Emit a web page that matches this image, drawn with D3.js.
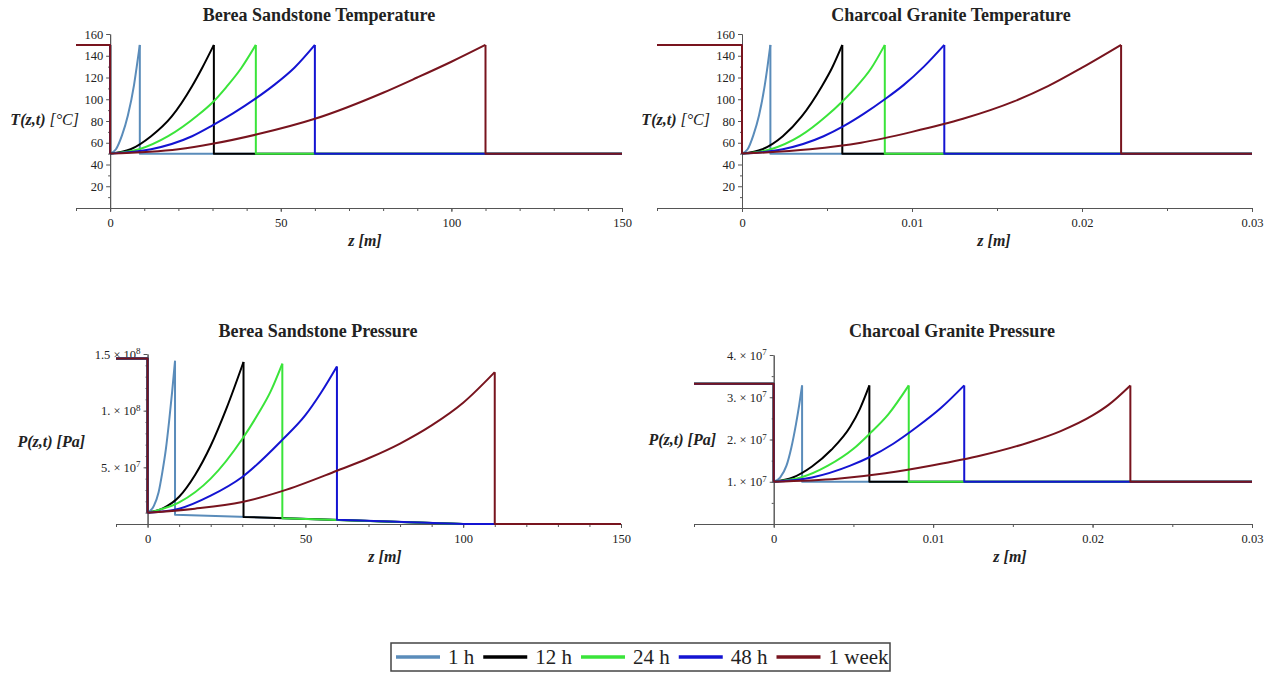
<!DOCTYPE html>
<meta charset="utf-8">
<style>
  body { margin: 0; background: #fff; }
  svg text { font-family: "Liberation Serif", "Times New Roman", serif; fill: #222; }
  .axis text { font-size: 12.5px; }
  .axis path, .axis line { stroke: #555; }
  .title { font-size: 18px; font-weight: bold; text-anchor: middle; }
  .alabel { font-size: 16px; font-style: italic; }
  .curve { fill: none; stroke-width: 2; stroke-linejoin: round; }
  .legend text { font-size: 21px; }
</style>
<body>
<svg id="chart" width="1276" height="675"></svg>
<script src="https://cdn.jsdelivr.net/npm/d3@7/dist/d3.min.js"></script>
<script>
  const seriesNames = ["1 h", "12 h", "24 h", "48 h", "1 week"]
  const seriesColors = ["#5a8cba", "#000000", "#3ae43a", "#1414d2", "#78141e"]

  // Berea Sandstone temperature, [z m, T °C] up to the thermal front
  const bereaTempInlet = 150
  const bereaTempAmbient = 50
  const bereaTempRise = [
    [[0, 50], [1.7, 54], [3.5, 67], [5.2, 85], [7, 113], [7.8, 130], [8.7, 150]],
    [[0, 50], [6, 54], [12, 66], [18, 84], [24, 112], [27, 129], [30.4, 150]],
    [[0, 50], [8.5, 54], [17, 66], [25.6, 85], [30, 97], [34, 111], [38.4, 128.5], [42.7, 150]],
    [[0, 50], [12, 54], [24, 66], [30, 76], [36, 87], [42.8, 101], [48, 113], [54, 129], [60, 150]],
    [[0, 50], [20, 54], [30, 59], [42.8, 67.5], [60, 82], [80, 106], [90, 120], [100, 134.5], [110, 150]]
  ]

  // Charcoal Granite temperature, [z m, T °C]
  const granTempInlet = 150
  const granTempAmbient = 50
  const granTempRise = [
    [[0, 50], [0.00033, 54], [0.00067, 67], [0.001, 85], [0.00134, 113], [0.0015, 130], [0.00167, 150]],
    [[0, 50], [0.0012, 54], [0.0024, 66], [0.0035, 84], [0.0047, 112], [0.0053, 129], [0.0059, 150]],
    [[0, 50], [0.0017, 54], [0.0034, 66], [0.005, 85], [0.0059, 98], [0.0067, 111], [0.0076, 128.5], [0.0084, 150]],
    [[0, 50], [0.0024, 54], [0.0048, 66], [0.006, 75.5], [0.0072, 87], [0.0084, 100], [0.0095, 113], [0.0107, 130], [0.0119, 150]],
    [[0, 50], [0.004, 54], [0.007, 60], [0.01, 70], [0.013, 82], [0.016, 98], [0.018, 112], [0.02, 129], [0.0223, 150]]
  ]

  // Berea Sandstone pressure, [z m, P Pa]
  const bereaPresInlet = 1.46e8
  const bereaPresRise = [
    [[0, 1e7], [2, 1.6e7], [3.5, 2.8e7], [4.7, 4.6e7], [5.8, 6.6e7], [6.8, 9.0e7], [7.8, 1.17e8], [8.7, 1.44e8]],
    [[0, 1e7], [5, 1.4e7], [10, 2.4e7], [15, 4.3e7], [20, 6.9e7], [25, 1.02e8], [30.4, 1.43e8]],
    [[0, 1e7], [10, 1.9e7], [20, 4.0e7], [30, 7.5e7], [35, 9.7e7], [39, 1.17e8], [42.7, 1.415e8]],
    [[0, 1e7], [10, 1.35e7], [20, 2.5e7], [30, 4.15e7], [42.6, 7.4e7], [50, 9.6e7], [55, 1.16e8], [60, 1.39e8]],
    [[0, 1e7], [15, 1.35e7], [30, 1.94e7], [42.6, 2.9e7], [60, 4.7e7], [70, 5.8e7], [80, 7.1e7], [90, 8.7e7], [100, 1.07e8], [110, 1.34e8]]
  ]
  const bereaPresTail = [
    [[8.7, 0.82e7], [100, 0], [150, 0]],
    [[30.4, 0.62e7], [100, 0], [150, 0]],
    [[42.7, 0.5e7], [100, 0], [150, 0]],
    [[60, 0.38e7], [100, 0], [150, 0]],
    [[110, 0], [150, 0]]
  ]

  // Charcoal Granite pressure, [z m, P Pa]
  const granPresInlet = 3.32e7
  const granPresAmbient = 1e7
  const granPresRise = [
    [[0, 1e7], [0.0004, 1.1e7], [0.0008, 1.38e7], [0.0011, 1.8e7], [0.0014, 2.37e7], [0.0016, 2.82e7], [0.00178, 3.28e7]],
    [[0, 1e7], [0.0012, 1.1e7], [0.0024, 1.36e7], [0.0036, 1.75e7], [0.0048, 2.3e7], [0.0054, 2.72e7], [0.006, 3.28e7]],
    [[0, 1e7], [0.0017, 1.1e7], [0.0034, 1.38e7], [0.005, 1.78e7], [0.006, 2.13e7], [0.0072, 2.6e7], [0.00847, 3.28e7]],
    [[0, 1e7], [0.0024, 1.1e7], [0.0048, 1.38e7], [0.006, 1.58e7], [0.0075, 1.9e7], [0.009, 2.3e7], [0.0105, 2.75e7], [0.01195, 3.28e7]],
    [[0, 1e7], [0.004, 1.07e7], [0.007, 1.2e7], [0.01, 1.39e7], [0.013, 1.62e7], [0.016, 1.93e7], [0.018, 2.2e7], [0.02, 2.57e7], [0.021, 2.82e7], [0.02237, 3.28e7]]
  ]

  const svg = d3.select('#chart')

  const flatTail = (rise, level, xmax) =>
    rise.map(r => [[r[r.length - 1][0], level], [xmax, level]])

  const panels = [
    { title: 'Berea Sandstone Temperature', tx: 319, ty: 21,
      xd: [-10, 150], xr: [76, 622], yd: [0, 160], yr: [208, 34],
      xt: [0, 50, 100, 150], xm: d3.range(-10, 151, 10),
      yt: d3.range(20, 161, 20), ym: d3.range(10, 160, 20),
      xf: d3.format('d'), yf: d3.format('d'),
      inlet: bereaTempInlet, rise: bereaTempRise,
      tail: flatTail(bereaTempRise, bereaTempAmbient, 150),
      ylab: ['T(z,t)', ' [°C]'], ylx: 79, yly: 125, xlx: 365, xly: 246 },
    { title: 'Charcoal Granite Temperature', tx: 951, ty: 21,
      xd: [-0.005, 0.03], xr: [657, 1252], yd: [0, 160], yr: [208, 34],
      xt: [0, 0.01, 0.02, 0.03], xm: d3.range(-0.005, 0.0301, 0.005),
      yt: d3.range(20, 161, 20), ym: d3.range(10, 160, 20),
      xf: d => d === 0 ? '0' : d3.format('.2f')(d), yf: d3.format('d'),
      inlet: granTempInlet, rise: granTempRise,
      tail: flatTail(granTempRise, granTempAmbient, 0.03),
      ylab: ['T(z,t)', ' [°C]'], ylx: 710, yly: 125, xlx: 994, xly: 246 },
    { title: 'Berea Sandstone Pressure', tx: 318, ty: 337,
      xd: [-10, 150], xr: [116, 621], yd: [0, 1.5e8], yr: [524, 354],
      xt: [0, 50, 100, 150], xm: d3.range(-10, 151, 10),
      yt: [5e7, 1e8, 1.5e8], ym: d3.range(1e7, 1.5e8, 1e7),
      xf: d3.format('d'), yf: 'sci',
      inlet: bereaPresInlet, rise: bereaPresRise, tail: bereaPresTail,
      ylab: ['P(z,t) [Pa]', ''], ylx: 85, yly: 447, xlx: 385, xly: 562 },
    { title: 'Charcoal Granite Pressure', tx: 952, ty: 337,
      xd: [-0.005, 0.03], xr: [694, 1252], yd: [0, 4e7], yr: [524, 355],
      xt: [0, 0.01, 0.02, 0.03], xm: d3.range(-0.005, 0.0301, 0.005),
      yt: [1e7, 2e7, 3e7, 4e7], ym: d3.range(5e6, 4e7, 5e6),
      xf: d => d === 0 ? '0' : d3.format('.2f')(d), yf: 'sci',
      inlet: granPresInlet, rise: granPresRise,
      tail: flatTail(granPresRise, granPresAmbient, 0.03),
      ylab: ['P(z,t) [Pa]', ''], ylx: 716, yly: 445, xlx: 1010, xly: 562 }
  ]

  function sciLabel(sel) {
    sel.each(function (d) {
      const e = Math.floor(Math.log10(d) + 1e-9)
      const m = +(d / Math.pow(10, e)).toFixed(2)
      const t = d3.select(this).text(null)
      t.append('tspan').text((Number.isInteger(m) ? m + '.' : m) + ' \u00d7 10')
      t.append('tspan').attr('dy', '-0.5em').attr('font-size', '9px').text(e)
    })
  }

  panels.forEach(p => {
    const x = d3.scaleLinear().domain(p.xd).range(p.xr)
    const y = d3.scaleLinear().domain(p.yd).range(p.yr)
    const g = svg.append('g')

    // minor ticks
    g.append('g').attr('class', 'axis').attr('transform', `translate(0,${y(0)})`)
      .call(d3.axisBottom(x).tickValues(p.xm).tickSize(3).tickSizeOuter(0).tickFormat(''))
    g.append('g').attr('class', 'axis').attr('transform', `translate(${x(0)},0)`)
      .call(d3.axisLeft(y).tickValues(p.ym).tickSize(2).tickSizeOuter(0).tickFormat(''))

    // major ticks
    g.append('g').attr('class', 'axis').attr('transform', `translate(0,${y(0)})`)
      .call(d3.axisBottom(x).tickValues(p.xt).tickSize(4).tickSizeOuter(0).tickPadding(6).tickFormat(p.xf))
    const ya = g.append('g').attr('class', 'axis').attr('transform', `translate(${x(0)},0)`)
      .call(d3.axisLeft(y).tickValues(p.yt).tickSize(4).tickSizeOuter(0).tickPadding(3)
        .tickFormat(p.yf === 'sci' ? d => d : p.yf))
    if (p.yf === 'sci') ya.selectAll('.tick text').call(sciLabel)
    g.selectAll('.domain').attr('stroke', '#555')

    const line = d3.line().x(d => x(d[0])).y(d => y(d[1]))
    const smooth = d3.line().x(d => x(d[0])).y(d => y(d[1])).curve(d3.curveMonotoneX)

    p.rise.forEach((r, i) => {
      const s = g.append('g').attr('stroke', seriesColors[i])
      const start = r[0]
      const front = r[r.length - 1]
      s.append('path').attr('class', 'curve')
        .attr('d', line([[p.xd[0], p.inlet], [0, p.inlet], start]))
      s.append('path').attr('class', 'curve').attr('d', smooth(r))
      s.append('path').attr('class', 'curve')
        .attr('d', line([front].concat(p.tail[i])))
    })

    g.append('text').attr('class', 'title').attr('x', p.tx).attr('y', p.ty).text(p.title)

    g.append('text').attr('class', 'alabel').attr('font-weight', 'bold')
      .attr('x', p.xlx).attr('y', p.xly).attr('text-anchor', 'middle').text('z [m]')

    const yl = g.append('text').attr('class', 'alabel')
      .attr('x', p.ylx).attr('y', p.yly).attr('text-anchor', 'end')
    yl.append('tspan').attr('font-weight', 'bold').text(p.ylab[0])
    if (p.ylab[1]) yl.append('tspan').text(p.ylab[1])
  })

  // legend
  const lg = svg.append('g').attr('class', 'legend')
  lg.append('rect').attr('x', 391).attr('y', 643).attr('width', 499).attr('height', 28)
    .attr('fill', 'none').attr('stroke', '#444').attr('stroke-width', 1.5)
  let lx = 396
  seriesNames.forEach((n, i) => {
    lg.append('line').attr('x1', lx).attr('x2', lx + 44).attr('y1', 657).attr('y2', 657)
      .attr('stroke', seriesColors[i]).attr('stroke-width', 3.5)
    const t = lg.append('text').attr('x', lx + 52).attr('y', 664).text(n)
    lx += 52 + t.node().getComputedTextLength() + 9
  })
</script>
</body>
